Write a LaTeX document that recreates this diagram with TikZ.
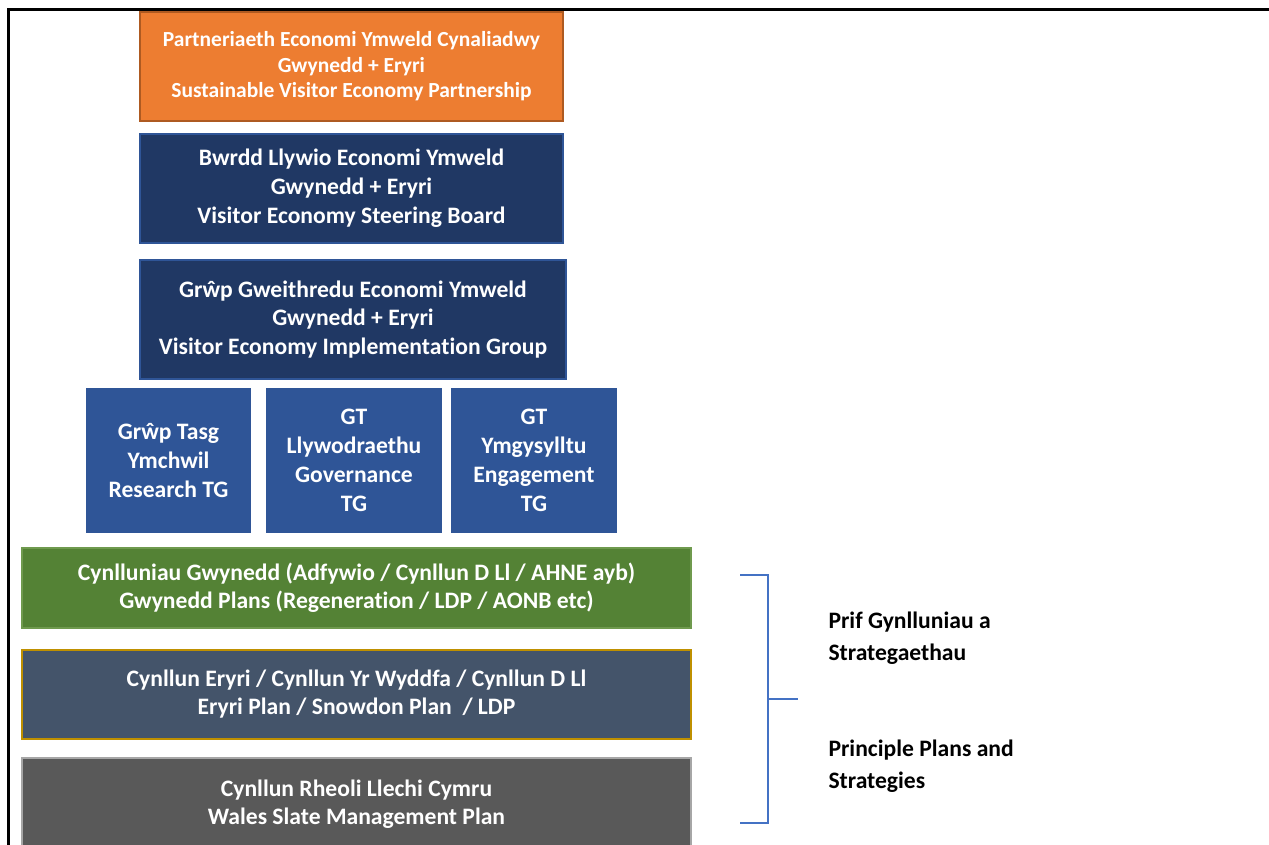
\documentclass[tikz,border=0pt]{standalone}
\usepackage{fontspec}
\setmainfont[Ligatures=NoCommon]{Carlito}
\usetikzlibrary{positioning}
\definecolor{orangeFill}{HTML}{ED7D31}
\definecolor{orangeLine}{HTML}{AE5A21}
\definecolor{navyFill}{HTML}{203864}
\definecolor{navyLine}{HTML}{2F5597}
\definecolor{tgFill}{HTML}{2F5597}
\definecolor{greenFill}{HTML}{548235}
\definecolor{greenLine}{HTML}{6F9A4E}
\definecolor{slateFill}{HTML}{44546A}
\definecolor{goldLine}{HTML}{BF9000}
\definecolor{greyFill}{HTML}{595959}
\definecolor{greyLine}{HTML}{A6A6A6}
\definecolor{braceColor}{HTML}{4472C4}
\tikzset{
  box/.style={rectangle, anchor=north west, inner sep=0pt, outer sep=0pt,
    align=center, text=white, line width=1.5pt,
    font=\bfseries\fontsize{23.6}{28.8}\selectfont},
  plan/.style={box, minimum width=669pt, font=\bfseries\fontsize{23.6}{28}\selectfont},
  side/.style={anchor=west, align=left, font=\bfseries\fontsize{23.6}{32}\selectfont},
}
\begin{document}
\begin{tikzpicture}[x=1pt,y=-1pt]
  \clip (0,0) rectangle (1269,845);
  % frame of the page
  \draw[line width=3pt] (8,850) -- (8,10) -- (1275,10);
  % governance boxes
  \node[box, draw=orangeLine, fill=orangeFill, minimum width=423pt, minimum height=109pt,
        font=\bfseries\fontsize{21.5}{25.5}\selectfont] (partner) at (140,12)
        {Partneriaeth Economi Ymweld Cynaliadwy\\Gwynedd + Eryri\\Sustainable Visitor Economy Partnership};
  \node[box, draw=navyLine, fill=navyFill, minimum width=423pt, minimum height=109pt] (board) at (140,134)
        {Bwrdd Llywio Economi Ymweld\\Gwynedd + Eryri\\Visitor Economy Steering Board};
  \node[box, draw=navyLine, fill=navyFill, minimum width=426pt, minimum height=119pt] (group) at (140,260)
        {Grŵp Gweithredu Economi Ymweld\\Gwynedd + Eryri\\Visitor Economy Implementation Group};
  % task groups
  \node[box, fill=tgFill, minimum width=165pt, minimum height=145pt] (research) at (86,388)
        {Grŵp Tasg\\Ymchwil\\Research TG};
  \node[box, fill=tgFill, minimum width=176pt, minimum height=145pt] (governance) at (266,388)
        {GT\\Llywodraethu\\Governance\\TG};
  \node[box, fill=tgFill, minimum width=166pt, minimum height=145pt] (engage) at (451,388)
        {GT\\Ymgysylltu\\Engagement\\TG};
  % plans
  \node[plan, draw=greenLine, fill=greenFill, minimum height=80pt] (gwynedd) at (22,548)
        {Cynlluniau Gwynedd (Adfywio / Cynllun D Ll / AHNE ayb)\\Gwynedd Plans (Regeneration / LDP / AONB etc)};
  \node[plan, draw=goldLine, fill=slateFill, minimum height=89pt] (eryri) at (22,650)
        {Cynllun Eryri / Cynllun Yr Wyddfa / Cynllun D Ll\\Eryri Plan / Snowdon Plan~ / LDP};
  \node[plan, draw=greyLine, fill=greyFill, minimum height=93pt] (slate) at (22,758)
        {Cynllun Rheoli Llechi Cymru\\Wales Slate Management Plan};
  % bracket
  \coordinate (brTop) at (740,575);
  \coordinate (brBot) at (740,823);
  \coordinate (brMid) at (768,699);
  \coordinate (brTip) at (798,699);
  \draw[braceColor, line width=1.5pt] (brTop) -- (brTop -| brMid) -- (brBot -| brMid) -- (brBot);
  \draw[braceColor, line width=1.5pt] (brMid) -- (brTip);
  \node[side] (cymraeg) at (825,638) {Prif Gynlluniau a\\Strategaethau};
  \node[side] (english) at (825,766) {Principle Plans and\\Strategies};
\end{tikzpicture}
\end{document}
